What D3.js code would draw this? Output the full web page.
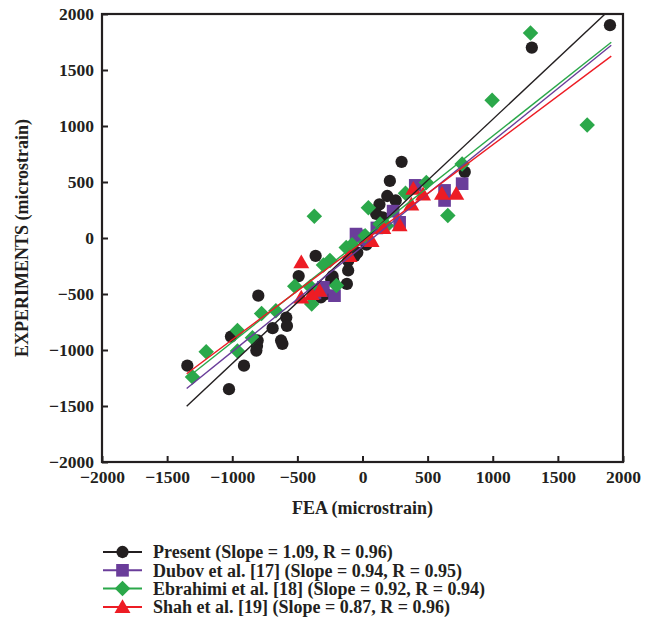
<!DOCTYPE html>
<html>
<head>
<meta charset="utf-8">
<script src="https://cdn.jsdelivr.net/npm/d3@7"></script>
<style>
  body { margin: 0; background: #fff; }
  svg text { font-family: "Liberation Serif", "DejaVu Serif", serif; font-weight: bold; fill: #231f20; }
</style>
</head>
<body>
<div id="viz"></div>
<script>
// values (microstrain)
const xTicks = [-2000, -1500, -1000, -500, 0, 500, 1000, 1500, 2000];
const yTicks = [-2000, -1500, -1000, -500, 0, 500, 1000, 1500, 2000];

const present = [
  [1900, 1900], [1300, 1700], [300, 680], [210, 510], [190, 375], [255, 335], [130, 300],
  [105, 215], [155, 185], [785, 590], [-40, -130], [-60, -160], [-110, -205], [-110, -290],
  [-225, -380], [-120, -410], [-240, -370], [-320, -530], [-230, -340], [-360, -160],
  [-490, -340], [-800, -515], [-585, -710], [-580, -785], [-690, -805], [-625, -915],
  [-615, -945], [-805, -915], [-810, -965], [-815, -1005], [-1010, -880], [-910, -1140],
  [-1025, -1350], [-1345, -1140], [-280, -500], [30, -60]
];
const dubov = [
  [405, 470], [630, 425], [630, 335], [765, 485], [235, 240], [285, 140], [-35, 20],
  [20, -10], [-300, -440], [-315, -470], [-365, -490], [-215, -515], [-50, 35], [110, 90]
];
const ebrahimi = [
  [1290, 1830], [995, 1230], [1725, 1010], [765, 660], [655, 200], [490, 495], [330, 400],
  [45, 270], [185, 110], [135, 125], [-370, 195], [-125, -85], [-250, -200], [-300, -240],
  [-200, -425], [-400, -435], [-390, -590], [-520, -430], [-665, -650], [-775, -675],
  [-845, -890], [-960, -825], [-960, -1010], [-1200, -1015], [-1305, -1240], [20, 20], [-80, -60]
];
const shah = [
  [720, 395], [610, 395], [465, 390], [390, 440], [375, 300], [285, 115], [70, -25],
  [-100, -160], [-470, -215], [-470, -530], [-390, -500], [-330, -470], [160, 90]
];

const seriesNames = [
  "Present (Slope = 1.09, R = 0.96)",
  "Dubov et al. [17] (Slope = 0.94, R = 0.95)",
  "Ebrahimi et al. [18] (Slope = 0.92, R = 0.94)",
  "Shah et al. [19] (Slope = 0.87, R = 0.96)"
];
const fitSlope = [1.09, 0.94, 0.92, 0.87];
const fitIntercept = [-30, -75, -10, -38];
const fitFrom = [-1350, -1350, -1340, -1350];
const fitTo = [1910, 1910, 1910, 1910];

const colors = ["#231f20", "#6a3d9a", "#2ba84a", "#ed1c24"];
const shapes = ["circle", "square", "diamond", "triangle"];
const allData = [present, dubov, ebrahimi, shah];

const width = 658, height = 631;
const margin = { top: 14, right: 35, bottom: 169, left: 102 };

const svg = d3.select("#viz").append("svg")
  .attr("width", width)
  .attr("height", height);

const x = d3.scaleLinear().domain([-2000, 2000]).range([margin.left, width - margin.right]);
const y = d3.scaleLinear().domain([-2000, 2000]).range([height - margin.bottom, margin.top]);

const fmt = d3.format("d");

function symbolPath(shape) {
  if (shape === "circle") return d3.symbol(d3.symbolCircle, 118)();
  if (shape === "square") return d3.symbol(d3.symbolSquare, 160)();
  if (shape === "diamond") return d3.symbol(d3.symbolSquare, 120)();
  return d3.symbol(d3.symbolTriangle, 110)();
}

function drawMarker(g, shape, color) {
  const p = g.append("path")
    .attr("d", symbolPath(shape))
    .attr("fill", color);
  if (shape === "diamond") p.attr("transform", "rotate(45)");
  if (shape === "triangle") p.attr("transform", "translate(0,1.5)");
}

svg.append("clipPath").attr("id", "plotClip")
  .append("rect")
  .attr("x", margin.left).attr("y", margin.top)
  .attr("width", x(2000) - x(-2000)).attr("height", y(-2000) - y(2000));

// markers
allData.forEach((data, i) => {
  svg.append("g").selectAll("g")
    .data(data)
    .enter().append("g")
    .attr("transform", d => `translate(${x(d[0])},${y(d[1])})`)
    .each(function() { drawMarker(d3.select(this), shapes[i], colors[i]); });
});

// fit lines
const fits = svg.append("g").attr("clip-path", "url(#plotClip)");
seriesNames.forEach((name, i) => {
  fits.append("line")
    .attr("x1", x(fitFrom[i])).attr("y1", y(fitSlope[i] * fitFrom[i] + fitIntercept[i]))
    .attr("x2", x(fitTo[i])).attr("y2", y(fitSlope[i] * fitTo[i] + fitIntercept[i]))
    .attr("stroke", colors[i])
    .attr("stroke-width", 1.4);
});

// axes
const xAxis = svg.append("g")
  .attr("transform", `translate(0,${y(-2000)})`)
  .call(d3.axisBottom(x).tickValues(xTicks).tickFormat(fmt).tickSizeInner(-6).tickSizeOuter(0).tickPadding(9));
const yAxis = svg.append("g")
  .attr("transform", `translate(${x(-2000)},0)`)
  .call(d3.axisLeft(y).tickValues(yTicks).tickFormat(fmt).tickSizeInner(-6).tickSizeOuter(0).tickPadding(8));

[xAxis, yAxis].forEach(a => {
  a.select(".domain").remove();
  a.selectAll(".tick line").attr("stroke", "#231f20").attr("stroke-width", 2);
  a.selectAll(".tick text").attr("font-size", 17.5).attr("font-family", null);
});

// frame
svg.append("rect")
  .attr("x", x(-2000)).attr("y", y(2000))
  .attr("width", x(2000) - x(-2000)).attr("height", y(-2000) - y(2000))
  .attr("fill", "none")
  .attr("stroke", "#231f20")
  .attr("stroke-width", 2.2);

// axis titles
svg.append("text")
  .attr("x", x(0)).attr("y", 514)
  .attr("text-anchor", "middle")
  .attr("font-size", 18)
  .text("FEA (microstrain)");

svg.append("text")
  .attr("transform", `translate(28,${y(0)}) rotate(-90)`)
  .attr("text-anchor", "middle")
  .attr("font-size", 18)
  .text("EXPERIMENTS (microstrain)");

// legend
const legend = svg.append("g").attr("transform", "translate(103,552)");
seriesNames.forEach((name, i) => {
  const row = legend.append("g").attr("transform", `translate(0,${i * 18.3})`);
  row.append("line")
    .attr("x1", 0).attr("x2", 39).attr("y1", 0).attr("y2", 0)
    .attr("stroke", colors[i]).attr("stroke-width", 2);
  const m = row.append("g").attr("transform", "translate(19.5,0)");
  drawMarker(m, shapes[i], colors[i]);
  row.append("text")
    .attr("x", 50).attr("y", 0).attr("dy", "0.35em")
    .attr("font-size", 18)
    .text(name);
});
</script>
</body>
</html>
